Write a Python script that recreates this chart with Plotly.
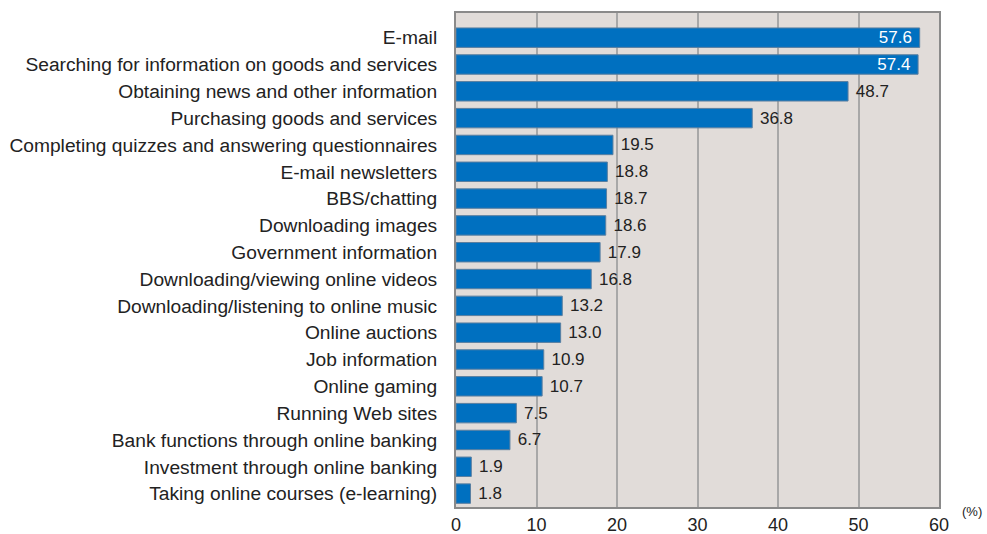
import plotly.graph_objects as go

categories = [
    "E-mail",
    "Searching for information on goods and services",
    "Obtaining news and other information",
    "Purchasing goods and services",
    "Completing quizzes and answering questionnaires",
    "E-mail newsletters",
    "BBS/chatting",
    "Downloading images",
    "Government information",
    "Downloading/viewing online videos",
    "Downloading/listening to online music",
    "Online auctions",
    "Job information",
    "Online gaming",
    "Running Web sites",
    "Bank functions through online banking",
    "Investment through online banking",
    "Taking online courses (e-learning)",
]
values = [57.6, 57.4, 48.7, 36.8, 19.5, 18.8, 18.7, 18.6, 17.9, 16.8,
          13.2, 13.0, 10.9, 10.7, 7.5, 6.7, 1.9, 1.8]
tick_vals = [0, 10, 20, 30, 40, 50, 60]

labels = [f"{v:.1f} " if v > 50 else f" {v:.1f}" for v in values]
positions = ["inside" if v > 50 else "outside" for v in values]
colors = ["white" if v > 50 else "#222222" for v in values]

FONT = "Liberation Sans, Arial, Helvetica, sans-serif"

fig = go.Figure(go.Bar(
    x=values, y=categories, orientation="h",
    marker=dict(color="#0070c0", line=dict(color="#5a7fa0", width=1)),
    text=labels, textposition=positions, insidetextanchor="end",
    constraintext="none",
    textfont=dict(color=colors, size=17, family=FONT),
    cliponaxis=False, hoverinfo="skip",
))

fig.update_layout(
    width=987, height=534,
    margin=dict(l=456, r=48, t=13, b=27),
    paper_bgcolor="white", plot_bgcolor="#e1dcd9",
    bargap=0.275, showlegend=False,
    uniformtext=dict(minsize=17, mode="show"),
    font=dict(family=FONT, color="#222222"),
    xaxis=dict(range=[0, 60], tickvals=tick_vals, showgrid=True,
               gridcolor="#a8a8a8", gridwidth=2, zeroline=False,
               showline=True, linecolor="#8a8a8a", linewidth=2, mirror=True,
               tickfont=dict(size=18), ticks="", ticklen=0,
               ticklabelstandoff=0, automargin=False),
    yaxis=dict(range=[len(categories) - 0.5, -0.92], showline=True,
               linecolor="#8a8a8a", linewidth=2, mirror=True,
               tickfont=dict(size=19.2), ticks="",
               ticklabelstandoff=13, automargin=False),
    annotations=[dict(x=1.0, y=0, xref="paper", yref="paper", xanchor="center",
                      yanchor="middle", xshift=33, yshift=-4,
                      text="(%)", showarrow=False, font=dict(size=13, color="#222222"))],
)

fig.write_html("out.html", config={"displayModeBar": False},
               post_script="document.body.style.margin='0';")
